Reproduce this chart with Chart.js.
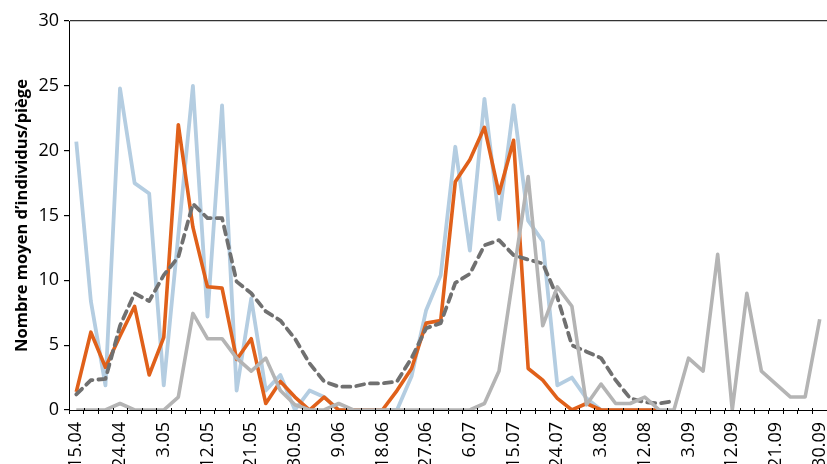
<!DOCTYPE html>
<html><head><meta charset="utf-8">
<script src="https://cdn.jsdelivr.net/npm/chart.js@4.4.1/dist/chart.umd.min.js"></script>
<style>html,body{margin:0;padding:0;background:#fff}#wrap{width:827px;height:464px}</style>
</head><body><div id="wrap"><canvas id="c" width="827" height="464"></canvas></div>
<script>
const tickLabels = ['15.04','24.04','3.05','12.05','21.05','30.05','9.06','18.06','27.06','6.07','15.07','24.07','3.08','12.08','3.09','12.09','21.09','30.09'];

const lightBlue = [20.7,8.4,1.9,24.8,17.5,16.7,1.9,13.5,25.0,7.2,
  23.5,1.5,8.6,1.5,2.7,0,1.5,1.0,0,0,
  0,0,0,2.6,7.7,10.4,20.3,12.3,24.0,14.7,
  23.5,14.6,13.0,1.9,2.5,0.9,0,0,0,0,
  0,null,null,null,null,null,null,null,null,null,null,null];

const orange = [1.4,6.0,3.3,5.7,8.0,2.7,5.6,22.0,14.1,9.5,
  9.4,3.9,5.5,0.5,2.2,1.0,0,1.0,0,0,
  0,0,1.5,3.2,6.7,6.9,17.6,19.3,21.8,16.7,
  20.8,3.2,2.3,0.9,0,0.5,0,0,0,0,
  0,null,null,null,null,null,null,null,null,null,null,null];

const dashedGrey = [1.2,2.3,2.4,6.5,9.0,8.4,10.4,11.8,15.9,14.8,
  14.8,9.9,9.0,7.6,6.9,5.5,3.6,2.2,1.8,1.8,
  2.05,2.05,2.2,4.0,6.3,6.7,9.8,10.5,12.7,13.1,
  11.95,11.6,11.3,8.7,5.0,4.5,4.0,2.3,0.9,0.6,
  0.5,0.7,null,null,null,null,null,null,null,null,null,null];

const lightGrey = [0,0,0,0.5,0,0,0,1.0,7.45,5.5,
  5.5,4.0,3.0,4.0,1.5,0.4,0,0,0.5,0,
  0,0,0,0,0,0,0,0,0.5,3.0,
  10.5,18.0,6.5,9.5,8.0,0.4,2.0,0.5,0.5,1.0,
  0,0,4.0,3.0,12.0,0,9.0,3.0,2.0,1.0,
  1.0,7.0];

// one category per sample; a date label on every third sample
const categories = [];
tickLabels.forEach((t, i) => {
  categories.push(t);
  if (i < tickLabels.length - 1) categories.push('', '');
});

const FONT = 'Open Sans';

// small tick marks that cross the x axis slightly (drawn above the axis line)
const crossTicks = {
  id: 'crossTicks',
  afterDraw(chart) {
    const x = chart.scales.x, a = chart.chartArea, ctx = chart.ctx;
    ctx.save();
    ctx.strokeStyle = '#000';
    ctx.lineWidth = 1;
    ctx.beginPath();
    for (let i = 0; i <= categories.length; i++) {
      const px = Math.round(x.getPixelForValue(i - 0.5)) + 0.5;
      ctx.moveTo(px, a.bottom - 2);
      ctx.lineTo(px, a.bottom);
    }
    ctx.stroke();
    ctx.restore();
  }
};

new Chart(document.getElementById('c'), {
  type: 'line',
  data: {
    labels: categories,
    datasets: [
      { data: lightGrey, borderColor: '#B4B4B4', borderWidth: 3.6, order: 1 },
      { data: dashedGrey, borderColor: '#707070', borderWidth: 3.8, borderDash: [8, 6], borderCapStyle: 'round', order: 2 },
      { data: orange, borderColor: '#E0601A', borderWidth: 3.6, order: 3 },
      { data: lightBlue, borderColor: '#B4CDE1', borderWidth: 3.8, order: 4 }
    ]
  },
  options: {
    responsive: false,
    animation: false,
    devicePixelRatio: 1,
    layout: { padding: { top: 21, left: 0, right: 0, bottom: 0 } },
    plugins: { legend: { display: false }, tooltip: { enabled: false } },
    elements: { point: { radius: 0 }, line: { tension: 0, borderJoinStyle: 'round', fill: false } },
    scales: {
      x: {
        offset: true,
        grid: { offset: true, drawOnChartArea: false, tickLength: 4, color: '#000' },
        border: { color: '#000', width: 1 },
        ticks: { autoSkip: false, maxRotation: 90, minRotation: 90, padding: 8, color: '#000', font: { family: FONT, size: 18 } },
        afterFit(s) { s.height = 54; s.paddingLeft = 0; s.paddingRight = 0; }
      },
      y: {
        min: 0, max: 30,
        ticks: { stepSize: 5, padding: 5, color: '#000', font: { family: FONT, size: 18 } },
        grid: {
          color: (ctx) => (ctx.tick && ctx.tick.value === 30 ? '#333' : 'rgba(0,0,0,0)'),
          tickColor: '#000', tickLength: 5, lineWidth: 1.2
        },
        border: { color: '#000', width: 1 },
        title: { display: true, text: 'Nombre moyen d’individus/piège', color: '#000', font: { family: FONT, size: 16.5, weight: 'bold' }, padding: { top: 12, bottom: 0 } },
        afterFit(s) { s.width = 69; s.paddingTop = 0; s.paddingBottom = 0; }
      }
    }
  },
  plugins: [crossTicks]
});
</script>
</body></html>
